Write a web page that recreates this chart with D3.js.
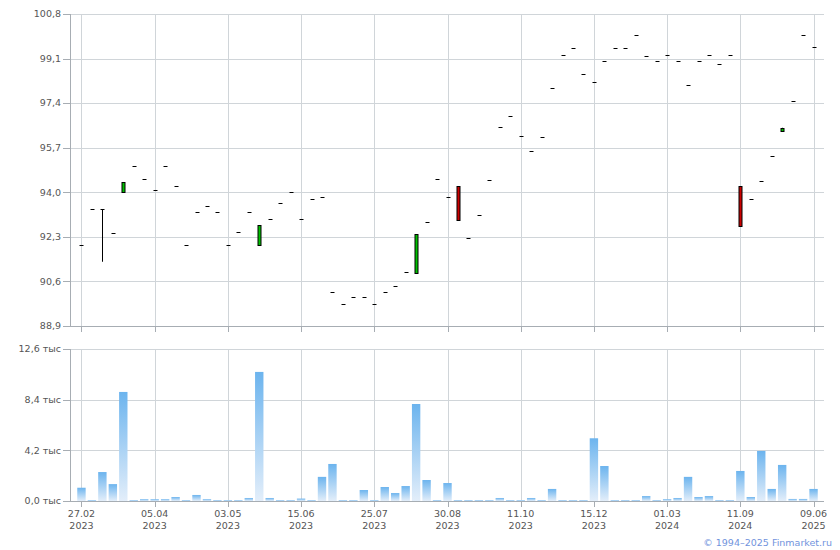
<!DOCTYPE html>
<html>
<head>
<meta charset="utf-8">
<script src="https://cdn.jsdelivr.net/npm/d3@7"></script>
<style>
  html, body { margin: 0; padding: 0; background: #fff; }
  svg { display: block; }
  text { font-family: "DejaVu Sans", Verdana, sans-serif; }
</style>
</head>
<body>
<svg id="chart" width="840" height="550"></svg>
<script>
// ---- data ----
const categories = d3.range(71); // trading points (index), labelled every 7th
const tickIndexes = [0, 7, 14, 21, 28, 35, 42, 49, 56, 63, 70];
const tickDates = ["27.02", "05.04", "03.05", "15.06", "25.07", "30.08", "11.10", "15.12", "01.03", "11.09", "09.06"];
const tickYears = ["2023", "2023", "2023", "2023", "2023", "2023", "2023", "2023", "2024", "2024", "2025"];

const open = [91.98, 93.35, 93.35, 92.43, 93.98, 95.00, 94.49, 94.07, 95.00, 94.24,
              91.98, 93.25, 93.46, 93.25, 91.98, 92.47, 93.25, 91.96, 92.97, 93.59,
              94.00, 92.97, 93.73, 93.81, 90.18, 89.73, 89.99, 89.99, 89.73, 90.18,
              90.41, 90.95, 90.93, 92.85, 94.49, 93.81, 94.23, 92.24, 93.12, 94.46,
              96.48, 96.90, 96.13, 95.56, 96.10, 97.97, 99.22, 99.49, 98.50, 98.19,
              99.00, 99.49, 99.49, 99.99, 99.19, 99.00, 99.22, 99.00, 98.08, 99.00,
              99.22, 98.88, 99.22, 94.23, 93.73, 94.42, 95.37, 96.36, 97.47, 99.99,
              99.53];
const close = [91.98, 93.35, 93.35, 92.43, 94.38, 95.00, 94.49, 94.07, 95.00, 94.24,
               91.98, 93.25, 93.46, 93.25, 91.98, 92.47, 93.25, 92.74, 92.97, 93.59,
               94.00, 92.97, 93.73, 93.81, 90.18, 89.73, 89.99, 89.99, 89.73, 90.18,
               90.41, 90.95, 92.40, 92.85, 94.49, 93.81, 92.95, 92.24, 93.12, 94.46,
               96.48, 96.90, 96.13, 95.56, 96.10, 97.97, 99.22, 99.49, 98.50, 98.19,
               99.00, 99.49, 99.49, 99.99, 99.19, 99.00, 99.22, 99.00, 98.08, 99.00,
               99.22, 98.88, 99.22, 92.69, 93.73, 94.42, 95.37, 96.46, 97.47, 99.99,
               99.53];
const high = [91.98, 93.35, 93.35, 92.43, 94.38, 95.00, 94.49, 94.07, 95.00, 94.24,
              91.98, 93.25, 93.46, 93.25, 91.98, 92.47, 93.25, 92.74, 92.97, 93.59,
              94.00, 92.97, 93.73, 93.81, 90.18, 89.73, 89.99, 89.99, 89.73, 90.18,
              90.41, 90.95, 92.40, 92.85, 94.49, 93.81, 94.23, 92.24, 93.12, 94.46,
              96.48, 96.90, 96.13, 95.56, 96.10, 97.97, 99.22, 99.49, 98.50, 98.19,
              99.00, 99.49, 99.49, 99.99, 99.19, 99.00, 99.22, 99.00, 98.08, 99.00,
              99.22, 98.88, 99.22, 94.23, 93.73, 94.42, 95.37, 96.46, 97.47, 99.99,
              99.53];
const low = [91.98, 93.35, 91.35, 92.43, 93.98, 95.00, 94.49, 94.07, 95.00, 94.24,
             91.98, 93.25, 93.46, 93.25, 91.98, 92.47, 93.25, 91.96, 92.97, 93.59,
             94.00, 92.97, 93.73, 93.81, 90.18, 89.73, 89.99, 89.99, 89.73, 90.18,
             90.41, 90.95, 90.93, 92.85, 94.49, 93.81, 92.95, 92.24, 93.12, 94.46,
             96.48, 96.90, 96.13, 95.56, 96.10, 97.97, 99.22, 99.49, 98.50, 98.19,
             99.00, 99.49, 99.49, 99.99, 99.19, 99.00, 99.22, 99.00, 98.08, 99.00,
             99.22, 98.88, 99.22, 92.69, 93.73, 94.42, 95.37, 96.36, 97.47, 99.99,
             99.53];
// volume, thousands
const volume = [1.10, 0.08, 2.40, 1.40, 9.04, 0.08, 0.15, 0.15, 0.15, 0.33,
                0.08, 0.50, 0.15, 0.08, 0.08, 0.08, 0.25, 10.70, 0.25, 0.08,
                0.08, 0.20, 0.08, 2.00, 3.07, 0.08, 0.08, 0.91, 0.08, 1.16,
                0.66, 1.24, 8.04, 1.74, 0.08, 1.49, 0.08, 0.08, 0.08, 0.08,
                0.25, 0.08, 0.08, 0.25, 0.08, 1.00, 0.08, 0.08, 0.08, 5.20,
                2.90, 0.08, 0.08, 0.08, 0.41, 0.08, 0.15, 0.25, 2.00, 0.33,
                0.41, 0.08, 0.08, 2.49, 0.33, 4.15, 1.00, 2.99, 0.17, 0.17,
                1.00];
const priceTicks = [88.9, 90.6, 92.3, 94.0, 95.7, 97.4, 99.1, 100.8];
const volumeTicks = [0, 4.2, 8.4, 12.6];

// ---- layout ----
const L = 70, R = 824;
const pTop = 14, pBot = 326;
const vTop = 349, vBot = 501;
const gridColor = "#d0d5d9";
const axisColor = "#a7adb3";
const textColor = "#555";

const svg = d3.select("#chart");
const x = d3.scalePoint().domain(categories).range([L + 1, R]).padding(1);
const yP = d3.scaleLinear().domain([88.9, 100.8]).range([pBot, pTop]);
const yV = d3.scaleLinear().domain([0, 12.6]).range([vBot, vTop]);
const fmt = v => d3.format(".1f")(v).replace(".", ",");
const cx = i => Math.round(x(i)) + 0.5;

const defs = svg.append("defs");
const grad = defs.append("linearGradient").attr("id", "barGrad")
  .attr("x1", 0).attr("y1", 0).attr("x2", 0).attr("y2", 1);
grad.append("stop").attr("offset", "0%").attr("stop-color", "#6cb4ee");
grad.append("stop").attr("offset", "100%").attr("stop-color", "#e3eefa");

function panel(y, ticks, top, bot, labelFn) {
  const g = svg.append("g");
  g.selectAll("line.h").data(ticks).join("line")
    .attr("x1", L).attr("x2", R)
    .attr("y1", d => Math.round(y(d)) + 0.5).attr("y2", d => Math.round(y(d)) + 0.5)
    .attr("stroke", d => d === ticks[0] ? axisColor : gridColor).attr("stroke-width", 1);
  g.selectAll("line.yt").data(ticks).join("line")
    .attr("x1", L - 7).attr("x2", L)
    .attr("y1", d => Math.round(y(d)) + 0.5).attr("y2", d => Math.round(y(d)) + 0.5)
    .attr("stroke", axisColor);
  g.selectAll("line.v").data(tickIndexes).join("line")
    .attr("x1", d => cx(d)).attr("x2", d => cx(d))
    .attr("y1", top).attr("y2", bot)
    .attr("stroke", gridColor);
  g.selectAll("line.xt").data(tickIndexes).join("line")
    .attr("x1", d => cx(d)).attr("x2", d => cx(d))
    .attr("y1", bot).attr("y2", bot + 6)
    .attr("stroke", axisColor);
  g.append("line").attr("x1", L + 0.5).attr("x2", L + 0.5)
    .attr("y1", top).attr("y2", bot + 0.5).attr("stroke", axisColor);
  g.selectAll("text.yl").data(ticks).join("text")
    .attr("x", L - 9).attr("y", d => y(d)).attr("dy", "0.35em")
    .attr("text-anchor", "end").attr("font-size", "9.5px").attr("fill", textColor)
    .text(labelFn);
  return g;
}

panel(yP, priceTicks, pTop, pBot, d => fmt(d));
panel(yV, volumeTicks, vTop, vBot, d => fmt(d) + " тыс");

// ---- candles ----
const cg = svg.append("g");
categories.forEach(i => {
  const xc = cx(i);
  const o = open[i], c = close[i], h = high[i], l = low[i];
  if (h !== l) {
    cg.append("line").attr("x1", xc).attr("x2", xc)
      .attr("y1", yP(h)).attr("y2", yP(l)).attr("stroke", "#000");
  }
  if (Math.abs(o - c) < 1e-9) {
    cg.append("line").attr("x1", xc - 2).attr("x2", xc + 2)
      .attr("y1", Math.round(yP(c)) + 0.5).attr("y2", Math.round(yP(c)) + 0.5)
      .attr("stroke", "#000");
  } else {
    const top = yP(Math.max(o, c)), bot = yP(Math.min(o, c));
    cg.append("rect")
      .attr("x", xc - 1.5).attr("width", 3)
      .attr("y", Math.round(top) + 0.5).attr("height", Math.max(2, Math.round(bot - top)))
      .attr("fill", c > o ? "#00c000" : "#cc0000")
      .attr("stroke", "#000").attr("stroke-width", 1);
  }
});

// ---- volume bars ----
const bw = 8.4;
svg.append("g").selectAll("rect").data(categories).join("rect")
  .attr("x", i => x(i) - bw / 2)
  .attr("width", bw)
  .attr("y", i => yV(volume[i]))
  .attr("height", i => vBot - yV(volume[i]))
  .attr("fill", "url(#barGrad)");

svg.append("line").attr("x1", L).attr("x2", R)
  .attr("y1", vBot + 0.5).attr("y2", vBot + 0.5).attr("stroke", axisColor);

// ---- x labels ----
const xl = svg.append("g");
xl.selectAll("text.d").data(tickIndexes).join("text")
  .attr("x", d => x(d)).attr("y", 517)
  .attr("text-anchor", "middle").attr("font-size", "9.5px").attr("fill", textColor)
  .text((d, k) => tickDates[k]);
xl.selectAll("text.yr").data(tickIndexes).join("text")
  .attr("x", d => x(d)).attr("y", 529)
  .attr("text-anchor", "middle").attr("font-size", "9.5px").attr("fill", textColor)
  .text((d, k) => tickYears[k]);

svg.append("text").attr("x", 832).attr("y", 546)
  .attr("text-anchor", "end").attr("font-size", "9.5px").attr("fill", "#7193dd")
  .text("© 1994–2025 Finmarket.ru");
</script>
</body>
</html>
